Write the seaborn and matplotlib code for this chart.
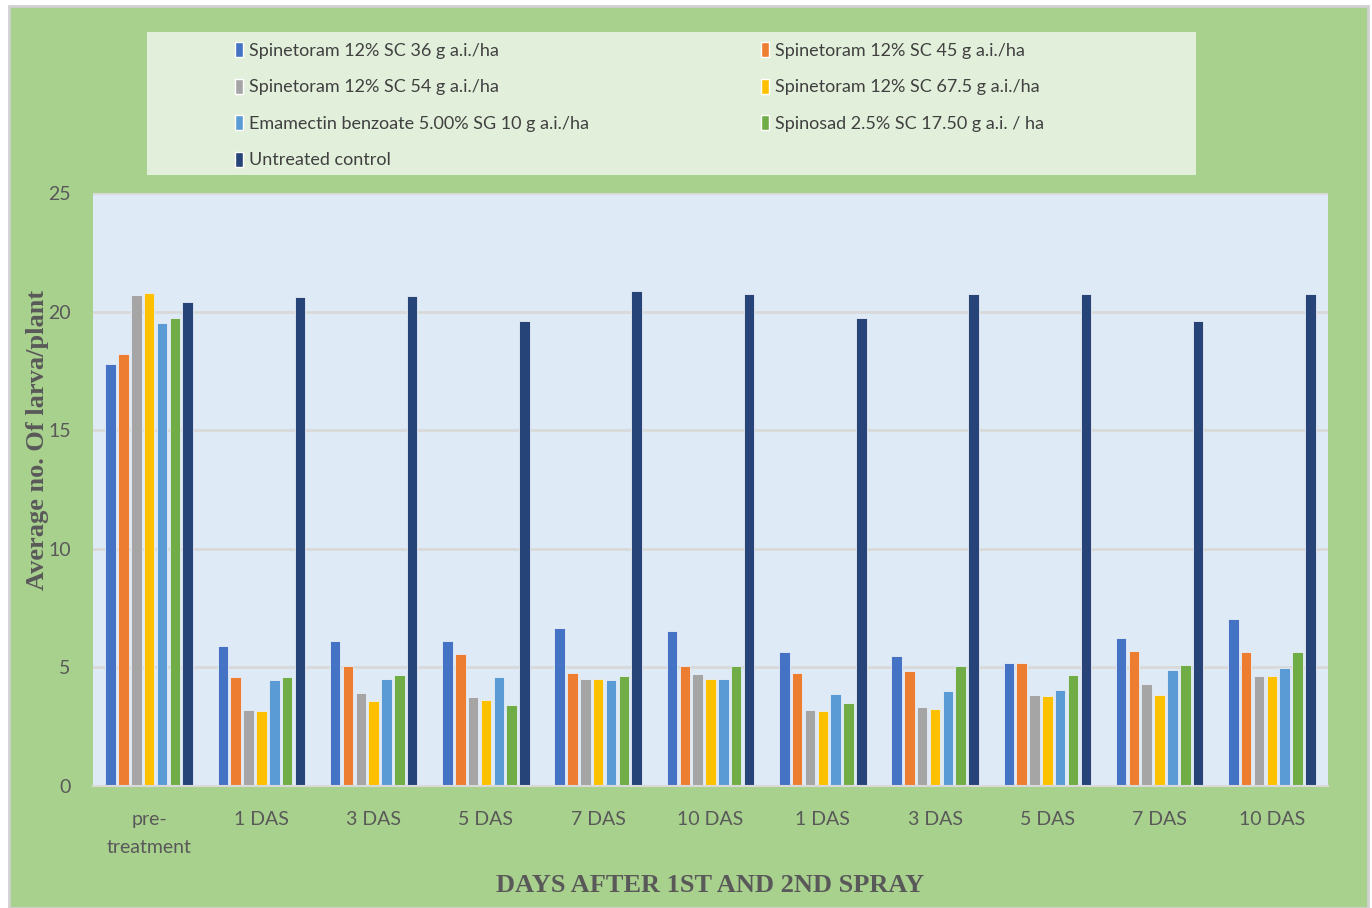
import numpy as np
import pandas as pd
import matplotlib
matplotlib.use("Agg")
import matplotlib.pyplot as plt
from matplotlib.patches import Rectangle
import seaborn as sns

# dane
etykiety_x = ["pre-\ntreatment", "1 DAS", "3 DAS", "5 DAS", "7 DAS", "10 DAS",
              "1 DAS", "3 DAS", "5 DAS", "7 DAS", "10 DAS"]
zabiegi = [
    "Spinetoram 12% SC 36 g a.i./ha",
    "Spinetoram 12% SC 45 g a.i./ha",
    "Spinetoram 12% SC 54 g a.i./ha",
    "Spinetoram 12% SC 67.5 g a.i./ha",
    "Emamectin benzoate 5.00% SG 10 g a.i./ha",
    "Spinosad 2.5% SC 17.50 g a.i. / ha",
    "Untreated control",
]
spinetoram_36 = [17.80, 5.92, 6.13, 6.13, 6.67, 6.55, 5.67, 5.50, 5.19, 6.25, 7.02]
spinetoram_45 = [18.22, 4.58, 5.04, 5.57, 4.77, 5.08, 4.77, 4.83, 5.19, 5.71, 5.67]
spinetoram_54 = [20.72, 3.20, 3.90, 3.75, 4.52, 4.73, 3.20, 3.31, 3.83, 4.31, 4.62]
spinetoram_675 = [20.77, 3.16, 3.58, 3.64, 4.52, 4.52, 3.16, 3.26, 3.78, 3.83, 4.62]
emamectin = [19.51, 4.46, 4.53, 4.58, 4.46, 4.52, 3.89, 3.99, 4.04, 4.88, 4.98]
spinosad = [19.72, 4.58, 4.67, 3.42, 4.62, 5.08, 3.52, 5.04, 4.67, 5.09, 5.67]
kontrola = [20.41, 20.63, 20.67, 19.62, 20.87, 20.73, 19.73, 20.73, 20.73, 19.62, 20.73]

kolory = ["#4472C4", "#ED7D31", "#A5A5A5", "#FFC000", "#5B9BD5", "#70AD47", "#264478"]

serie = [spinetoram_36, spinetoram_45, spinetoram_54, spinetoram_675,
         emamectin, spinosad, kontrola]
klucze = [f"g{i:02d}" for i in range(len(etykiety_x))]
df = pd.DataFrame([
    {"grupa": k, "zabieg": z, "wartosc": v}
    for z, s in zip(zabiegi, serie)
    for k, v in zip(klucze, s)
])

sns.set_theme(style="white")
plt.rcParams["font.family"] = ["Lato", "DejaVu Sans"]

fig = plt.figure(figsize=(13.72, 9.08), dpi=100)
fig.patch.set_facecolor("white")
# zielone tlo z szara ramka
fig.patches.append(Rectangle((9 / 1372, 0), 1359 / 1372, 902 / 908,
                             transform=fig.transFigure, facecolor="#A9D18E",
                             edgecolor="#D0D0D0", linewidth=2, zorder=-10))
# tlo legendy
fig.patches.append(Rectangle((147 / 1372, (908 - 175) / 908), 1049 / 1372, 143 / 908,
                             transform=fig.transFigure, facecolor="#E2EFDA",
                             edgecolor="none", zorder=-5))

ax = fig.add_axes([93 / 1372, (908 - 786) / 908, 1235 / 1372, 593 / 908])
ax.set_facecolor("#DEEBF7")

sns.barplot(data=df, x="grupa", y="wartosc", hue="zabieg", order=klucze,
            hue_order=zabiegi, palette=kolory, saturation=1, width=0.8, gap=0.18,
            edgecolor="#E8EEF8", linewidth=0.6, ax=ax, legend=False)

ax.set_ylim(0, 25)
ax.set_yticks([0, 5, 10, 15, 20, 25])
ax.yaxis.grid(True, color="#D9D9D9", linewidth=2)
ax.set_axisbelow(True)
ax.set_xlim(-0.5, len(klucze) - 0.5)
ax.set_xticks(range(len(klucze)))
ax.set_xticklabels(etykiety_x, linespacing=1.8)
for s in ["top", "right", "left"]:
    ax.spines[s].set_visible(False)
ax.spines["bottom"].set_color("#D9D9D9")
ax.spines["bottom"].set_linewidth(1.5)
ax.tick_params(axis="both", length=0, labelsize=14, colors="#595959")
ax.tick_params(axis="y", pad=16)
ax.tick_params(axis="x", pad=18)

ax.set_xlabel("DAYS AFTER 1ST AND 2ND SPRAY", fontsize=19, fontweight="bold",
              family="Liberation Serif", color="#595959", labelpad=13)
ax.set_ylabel("Average no. Of larva/plant", fontsize=19, fontweight="bold",
              family="Liberation Serif", color="#595959")
ax.yaxis.set_label_coords(-0.036, 0.583)

uchwyty = [Rectangle((0, 0), 1, 1, facecolor=c) for c in kolory]
styl = dict(frameon=False, fontsize=13, labelcolor="#404040", loc="upper left",
            bbox_transform=fig.transFigure, handlelength=0.45, handleheight=0.9,
            handletextpad=0.35, labelspacing=1.1, borderpad=0, borderaxespad=0)
lewa = [0, 2, 4, 6]
prawa = [1, 3, 5]
leg1 = ax.legend([uchwyty[i] for i in lewa], [zabiegi[i] for i in lewa],
                 bbox_to_anchor=(235 / 1372, 1 - 42 / 908), **styl)
ax.add_artist(leg1)
ax.legend([uchwyty[i] for i in prawa], [zabiegi[i] for i in prawa],
          bbox_to_anchor=(761 / 1372, 1 - 42 / 908), **styl)

fig.savefig("out.png", dpi=100, facecolor=fig.get_facecolor())
